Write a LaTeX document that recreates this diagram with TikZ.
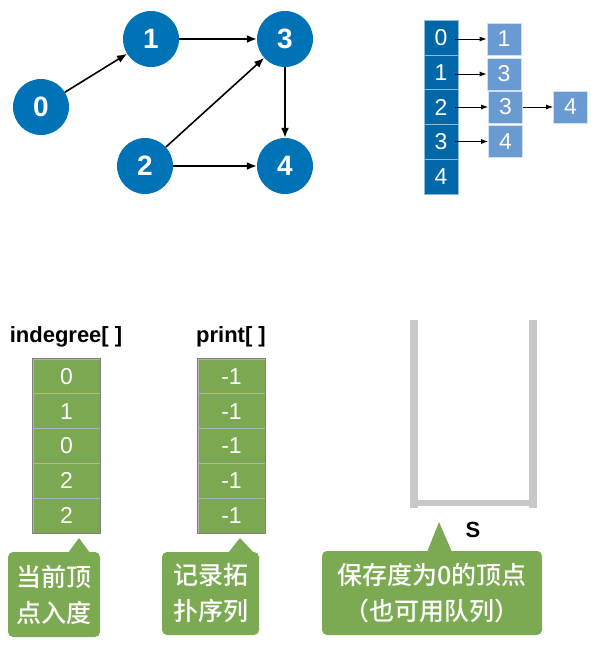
\documentclass[tikz,border=0pt]{standalone}
\usepackage{fontspec}
\setmainfont{Liberation Sans}
\newfontfamily\cjk{Noto Sans CJK SC}[UprightFont=* Medium]
\usetikzlibrary{arrows.meta,calc}
\definecolor{nodeblue}{RGB}{0,114,182}
\definecolor{listblue}{RGB}{0,104,168}
\definecolor{lightblue}{RGB}{106,154,210}
\definecolor{arrgreen}{RGB}{123,168,80}
\definecolor{calloutgreen}{RGB}{123,170,82}
\definecolor{stackgrey}{RGB}{200,200,200}
\tikzset{
  vert/.style={circle,fill=nodeblue,text=white,minimum size=56pt,inner sep=0pt,
    font=\bfseries\fontsize{28}{28}\selectfont},
  garrow/.style={line width=1.6pt,-{Latex[length=10pt,width=8pt]}},
  larrow/.style={line width=1pt,-{Latex[length=7pt,width=5pt]}},
  headcell/.style={rectangle,fill=listblue,draw=white!55!listblue,line width=0.6pt,
    minimum width=34pt,minimum height=34.8pt,inner sep=0pt,text=white,
    font=\fontsize{23}{23}\selectfont},
  edgecell/.style={rectangle,fill=lightblue,draw=white!70!lightblue,line width=0.6pt,
    minimum width=34pt,minimum height=32pt,inner sep=0pt,text=white,
    font=\fontsize{23}{23}\selectfont},
  arrcell/.style={rectangle,fill=arrgreen,draw=gray!60,line width=0.8pt,
    minimum width=67pt,minimum height=34.8pt,inner sep=0pt,text=white,
    font=\fontsize{23}{23}\selectfont},
  arrlabel/.style={font=\bfseries\fontsize{22}{22}\selectfont,inner sep=0pt},
  callout/.style={rectangle,rounded corners=5pt,fill=calloutgreen,text=white,
    align=center,inner sep=0pt,font=\cjk\fontsize{25}{36}\selectfont},
  stackbar/.style={fill=stackgrey}
}
\begin{document}
\begin{tikzpicture}[x=1pt,y=-1pt]
\useasboundingbox (0,0) rectangle (594,645);
% graph
\node[vert] (v0) at (41,107) {0};
\node[vert] (v1) at (151,39) {1};
\node[vert] (v3) at (285,39) {3};
\node[vert] (v2) at (145,166) {2};
\node[vert] (v4) at (285,166) {4};
\draw[garrow] (v0) -- (v1);
\draw[garrow] (v1) -- (v3);
\draw[garrow] (v2) -- (v3);
\draw[garrow] (v2) -- (v4);
\draw[garrow] (v3) -- (v4);
% adjacency list
\node[headcell] (h0) at (441,37.4) {0};
\node[headcell] (h1) at (441,72.2) {1};
\node[headcell] (h2) at (441,107) {2};
\node[headcell] (h3) at (441,141.8) {3};
\node[headcell] (h4) at (441,176.6) {4};
\node[edgecell] (e01) at (504,39) {1};
\node[edgecell] (e13) at (504,74) {3};
\node[edgecell] (e23) at (505.5,107) {3};
\node[edgecell] (e24) at (570.5,107) {4};
\node[edgecell] (e34) at (505.5,141.5) {4};
\draw[larrow] ([xshift=-3pt]h0.east |- e01) -- (e01.west);
\draw[larrow] ([xshift=-3pt]h1.east |- e13) -- (e13.west);
\draw[larrow] ([xshift=-3pt]h2.east) -- (e23.west);
\draw[larrow] (e23.east) -- (e24.west);
\draw[larrow] ([xshift=-3pt]h3.east |- e34) -- (e34.west);
% arrays
\node[arrlabel] (lin) at (66,337) {indegree[ ]};
\node[arrlabel] (lpr) at (231,337) {print[ ]};
\foreach \v [count=\i from 0] in {0,1,0,2,2} {
  \node[arrcell] (d\i) at (66.5,376.4+34.8*\i) {\v};
  \node[arrcell] (p\i) at (231.5,376.4+34.8*\i) {-1};
}
\draw[gray,line width=0.8pt] (d0.north west) rectangle (d4.south east);
\draw[gray,line width=0.8pt] (p0.north west) rectangle (p4.south east);
% stack
\fill[stackbar] (410,320) rectangle (418,508);
\fill[stackbar] (529,320) rectangle (537,508);
\fill[stackbar] (418,500) rectangle (529,506);
\node[font=\bfseries\fontsize{22}{22}\selectfont] (S) at (473,530) {S};
% callouts
\node[callout,minimum width=92pt,minimum height=85pt] (c1) at (54,594.5) {当前顶\\点入度};
\fill[calloutgreen] (68,553) -- (79,538) -- (90,553) -- cycle;
\node[callout,minimum width=97pt,minimum height=83pt] (c2) at (210.5,593.5) {记录拓\\扑序列};
\fill[calloutgreen] (228,553) -- (240,538) -- (254,553) -- cycle;
\node[callout,minimum width=220pt,minimum height=84pt] (c3) at (432,593) {保存度为0的顶点\\（也可用队列）};
\fill[calloutgreen] (427,552) -- (439,522) -- (452,552) -- cycle;
\end{tikzpicture}
\end{document}
